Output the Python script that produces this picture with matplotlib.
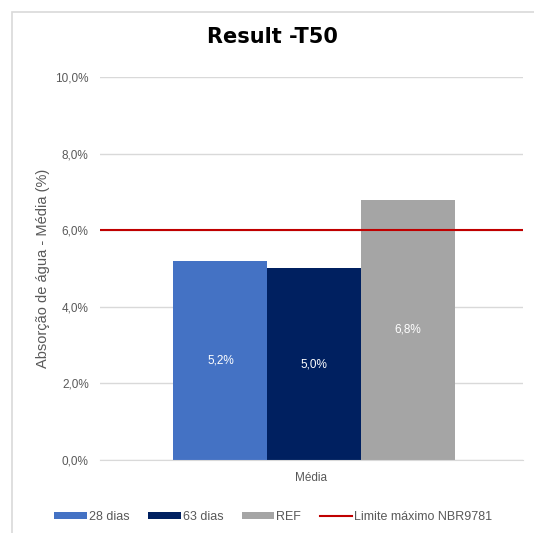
import numpy as np
import matplotlib.pyplot as plt
from matplotlib.patches import Rectangle

series = ["28 dias", "63 dias", "REF"]
values = [5.2, 5.0, 6.8]
colors = ["#4472c4", "#002060", "#a5a5a5"]
limit_value = 6.0
limit_label = "Limite máximo NBR9781"
category = "Média"
yticks = [0, 2, 4, 6, 8, 10]

plt.rcParams['font.family'] = ['Liberation Sans', 'DejaVu Sans']

fig = plt.figure(figsize=(5.34, 5.33), dpi=100)
ax = fig.add_axes([0.187, 0.137, 0.792, 0.7185])

# light frame around the chart
fig.patches.append(Rectangle((12 / 534, -0.1), 1.2, 1.1 - 12 / 533,
                             transform=fig.transFigure, fill=False,
                             edgecolor="#d9d9d9", linewidth=1.2))

width = 0.222
offsets = (np.arange(len(series)) - 1) * width + 0.007
handles = []
for off, v, c, name in zip(offsets, values, colors, series):
    b = ax.bar(off, v, width=width, color=c, label=name, zorder=2)
    handles.append(b)
    ax.text(off, v / 2, f"{v:.1f}%".replace(".", ","), ha="center", va="center",
            color="white", fontsize=8.5, zorder=3)

line = ax.axhline(limit_value, color="#c00000", linewidth=1.5, label=limit_label, zorder=4)
handles.append(line)

ax.set_xlim(-0.5, 0.5)
ax.set_ylim(0, 10)
ax.set_yticks(yticks)
ax.set_yticklabels([f"{t:.1f}%".replace(".", ",") for t in yticks])
ax.set_xticks([0])
ax.set_xticklabels([category])
ax.yaxis.grid(True, color="#d9d9d9", linewidth=1)
ax.set_axisbelow(True)
for s in ax.spines.values():
    s.set_visible(False)
ax.spines["bottom"].set_visible(True)
ax.spines["bottom"].set_color("#d9d9d9")
ax.tick_params(length=0, colors="#595959", labelsize=8.5, pad=8)
ax.tick_params(axis="x", pad=9)
ax.set_ylabel("Absorção de água - Média (%)", color="#595959", fontsize=10.5, labelpad=4)

fig.text(0.51, 0.931, "Result -T50", ha="center", va="center",
         fontsize=15, fontweight="bold", family=["DejaVu Sans"])

fig.legend(handles=handles, labels=series + [limit_label],
           loc="center", bbox_to_anchor=(0.512, 1 - 517 / 533), ncol=4, frameon=False,
           fontsize=9, handlelength=2.6, handleheight=0.5, handletextpad=0.15,
           columnspacing=1.5, labelcolor="#595959")

fig.savefig("out.png", dpi=100)
